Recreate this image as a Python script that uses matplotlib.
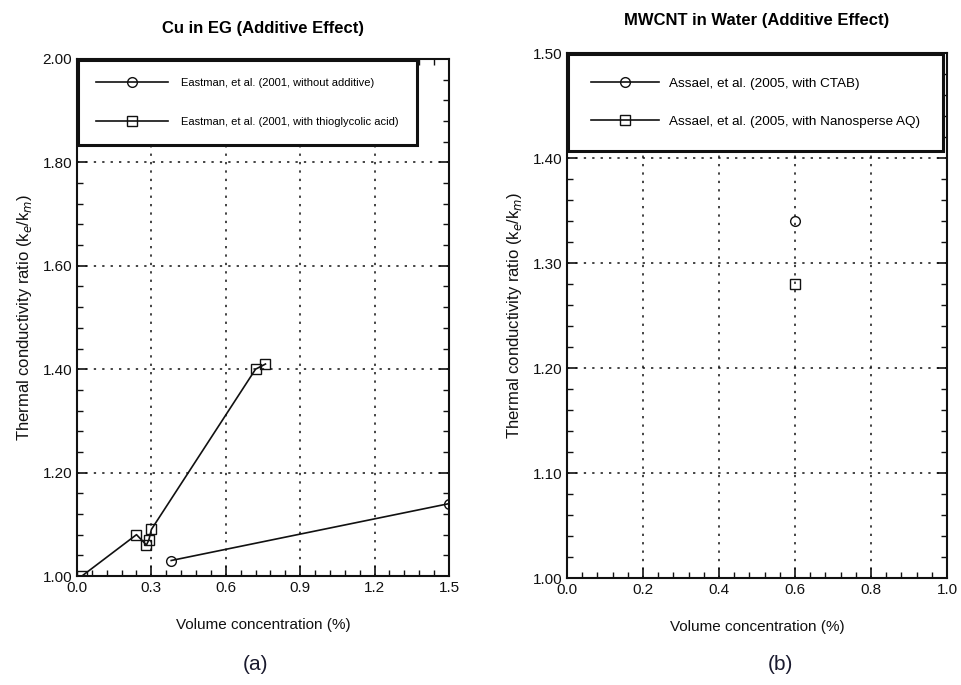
import matplotlib
matplotlib.use("Agg")
import matplotlib.pyplot as plt
from matplotlib.ticker import MultipleLocator

plt.rcParams["font.family"] = ["Liberation Sans Narrow", "Liberation Sans", "DejaVu Sans"]

# (a) Cu in EG
cu_plain_x = [0.38, 1.50]
cu_plain_y = [1.03, 1.14]
cu_thio_x = [0.02, 0.24, 0.28, 0.29, 0.30, 0.72, 0.76]
cu_thio_y = [1.00, 1.08, 1.06, 1.07, 1.09, 1.40, 1.41]

# (b) MWCNT in water
cnt_ctab_x = [0.6]
cnt_ctab_y = [1.34]
cnt_nano_x = [0.6]
cnt_nano_y = [1.28]

INK = "#111111"
fig = plt.figure(figsize=(9.61, 6.85), dpi=100)
fig.patch.set_facecolor("white")

ax1 = fig.add_axes([0.0801, 0.1591, 0.3871, 0.7548])
ax2 = fig.add_axes([0.590, 0.1562, 0.3954, 0.7664])


def style(ax, xlim, ylim, xmaj, xmin, ymaj, ymin):
    ax.set_xlim(*xlim)
    ax.set_ylim(*ylim)
    ax.xaxis.set_major_locator(MultipleLocator(xmaj))
    ax.xaxis.set_minor_locator(MultipleLocator(xmin))
    ax.yaxis.set_major_locator(MultipleLocator(ymaj))
    ax.yaxis.set_minor_locator(MultipleLocator(ymin))
    ax.tick_params(which="both", direction="in", top=True, right=True, colors=INK,
                   labelsize=11)
    ax.tick_params(which="major", length=7, width=1.2)
    ax.tick_params(which="minor", length=4, width=1.0)
    ax.grid(True, which="major", linestyle=(0, (1.5, 4)), color=INK, linewidth=1.1)
    for s in ax.spines.values():
        s.set_linewidth(1.5)
        s.set_color(INK)
    ax.set_xlabel("Volume concentration (%)", fontsize=11, color=INK, labelpad=17)
    ax.set_ylabel("Thermal conductivity ratio (k$_e$/k$_m$)", fontsize=12, color=INK,
                  labelpad=6)


style(ax1, (0, 1.5), (1.0, 2.0), 0.3, 0.06, 0.2, 0.04)
ax1.xaxis.set_major_formatter(lambda v, p: f"{v:.1f}")
ax1.yaxis.set_major_formatter(lambda v, p: f"{v:.2f}")
ax1.plot(cu_plain_x, cu_plain_y, "-o", color=INK, mfc="none", ms=7, lw=1.2,
         label="Eastman, et al. (2001, without additive)")
ax1.plot(cu_thio_x, cu_thio_y, "-s", color=INK, mfc="none", ms=7, lw=1.2,
         label="Eastman, et al. (2001, with thioglycolic acid)")
ax1.set_title("Cu in EG (Additive Effect)", fontsize=12, fontweight="bold", pad=19)
leg1 = ax1.legend(loc="upper left", bbox_to_anchor=(0.0, 1.0), fontsize=8,
                  fancybox=False, framealpha=1, edgecolor=INK, handlelength=6.5,
                  handletextpad=1.2, borderpad=1.6, labelspacing=2.6, borderaxespad=0.1)
leg1.get_frame().set_linewidth(2.2)

style(ax2, (0, 1.0), (1.0, 1.5), 0.2, 0.04, 0.1, 0.02)
ax2.xaxis.set_major_formatter(lambda v, p: f"{v:.1f}")
ax2.yaxis.set_major_formatter(lambda v, p: f"{v:.2f}")
ax2.plot(cnt_ctab_x, cnt_ctab_y, "-o", color=INK, mfc="none", ms=7, lw=1.2,
         label="Assael, et al. (2005, with CTAB)")
ax2.plot(cnt_nano_x, cnt_nano_y, "-s", color=INK, mfc="none", ms=7, lw=1.2,
         label="Assael, et al. (2005, with Nanosperse AQ)")
ax2.set_title("MWCNT in Water (Additive Effect)", fontsize=12, fontweight="bold", pad=20)
leg2 = ax2.legend(loc="upper left", bbox_to_anchor=(0.0, 1.0), fontsize=9.7,
                  fancybox=False, framealpha=1, edgecolor=INK, handlelength=5.0,
                  handletextpad=0.8, borderpad=1.7, labelspacing=1.9, borderaxespad=0.1)
leg2.get_frame().set_linewidth(2.2)

fig.text(256 / 961, 1 - 664 / 685, "(a)", fontsize=15, color="#1a1a2e",
         ha="center", va="center", family=["Liberation Sans", "DejaVu Sans"])
fig.text(780 / 961, 1 - 664 / 685, "(b)", fontsize=15, color="#1a1a2e",
         ha="center", va="center", family=["Liberation Sans", "DejaVu Sans"])

fig.savefig("out.png", dpi=100, facecolor="white")
